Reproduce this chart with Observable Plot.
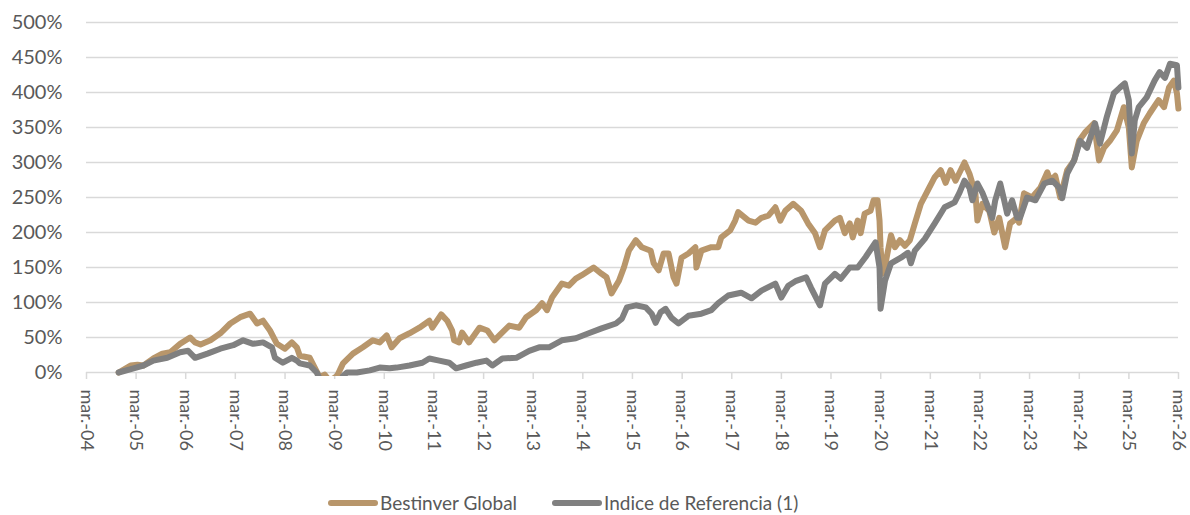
<!DOCTYPE html>
<html>
<head>
<meta charset="utf-8">
<script src="https://cdn.jsdelivr.net/npm/d3@7"></script>
<script src="https://cdn.jsdelivr.net/npm/@observablehq/plot@0.6"></script>
<style>
  html, body { margin: 0; padding: 0; background: #fff; }
  #wrap { position: relative; width: 1190px; height: 515px; font-family: Lato, "Open Sans", sans-serif; }
  #legend { position: absolute; left: 328px; top: 491px; display: flex; align-items: center; color: #595959; font-size: 19px; white-space: nowrap; }
  .item { display: flex; align-items: center; margin-right: 35px; }
  .sw { display: inline-block; width: 50px; height: 6px; border-radius: 3px; margin-right: 2px; }
</style>
</head>
<body>
<div id="wrap">
  <div id="chart"></div>
  <div id="legend"></div>
</div>
<script>
// ---- Data (decimal years, cumulative return in %) ----
const seriesNames = ["Bestinver Global", "Indice de Referencia (1)"];
const seriesColors = ["#B8966B", "#808080"];

const bestinverYears = [2004.81,2005.05,2005.19,2005.31,2005.51,2005.69,2005.85,2006.05,2006.25,2006.35,2006.46,2006.66,2006.86,2007.06,2007.26,2007.46,2007.60,2007.72,2007.86,2008.00,2008.16,2008.30,2008.40,2008.46,2008.66,2008.76,2008.86,2008.96,2009.06,2009.21,2009.33,2009.53,2009.73,2009.93,2010.07,2010.21,2010.31,2010.47,2010.67,2010.87,2011.07,2011.13,2011.31,2011.43,2011.53,2011.57,2011.67,2011.73,2011.87,2012.08,2012.24,2012.38,2012.48,2012.68,2012.88,2013.02,2013.22,2013.34,2013.44,2013.54,2013.74,2013.88,2014.02,2014.14,2014.38,2014.54,2014.64,2014.74,2014.89,2014.99,2015.09,2015.23,2015.35,2015.53,2015.59,2015.69,2015.79,2015.89,2015.99,2016.05,2016.15,2016.29,2016.43,2016.45,2016.55,2016.75,2016.89,2016.95,2017.13,2017.23,2017.29,2017.50,2017.64,2017.76,2017.90,2018.04,2018.14,2018.24,2018.40,2018.56,2018.70,2018.84,2018.94,2019.04,2019.24,2019.34,2019.44,2019.54,2019.60,2019.70,2019.76,2019.84,2019.96,2020.02,2020.10,2020.14,2020.16,2020.20,2020.26,2020.37,2020.45,2020.55,2020.65,2020.75,2020.85,2020.97,2021.11,2021.25,2021.37,2021.47,2021.57,2021.67,2021.85,2021.95,2022.07,2022.11,2022.21,2022.35,2022.45,2022.55,2022.67,2022.77,2022.91,2022.95,2023.05,2023.21,2023.38,2023.52,2023.58,2023.68,2023.78,2023.92,2024.06,2024.16,2024.28,2024.46,2024.56,2024.66,2024.78,2024.92,2025.06,2025.16,2025.22,2025.32,2025.46,2025.58,2025.76,2025.87,2025.97,2026.07,2026.13,2026.16];
const bestinverValues = [0,10,11,10,20,27,29,41,50,43,40,46,56,70,79,84,70,74,60,41,34,43,36,24,21,7,-7,-3,-12,-5,13,27,36,46,43,53,36,49,56,64,74,64,83,74,60,46,43,57,43,64,60,46,53,67,64,79,89,99,89,107,127,124,134,139,150,141,136,113,131,150,174,189,179,174,156,146,170,170,136,127,164,170,179,150,174,179,179,193,203,217,229,217,214,221,224,236,217,231,241,231,213,199,179,203,217,221,199,213,193,217,199,227,231,246,246,217,179,141,156,196,179,189,181,189,213,241,260,279,289,271,289,274,300,284,256,217,241,231,200,221,179,213,221,214,256,250,264,286,274,281,250,289,303,331,343,356,303,321,331,346,379,350,293,331,356,370,389,379,407,417,399,377];

const indiceYears = [2004.81,2005.11,2005.31,2005.51,2005.79,2006.05,2006.21,2006.35,2006.60,2006.86,2007.12,2007.32,2007.52,2007.72,2007.90,2007.96,2008.12,2008.30,2008.40,2008.46,2008.66,2008.80,2008.90,2009.17,2009.33,2009.41,2009.61,2009.87,2010.07,2010.27,2010.41,2010.67,2010.93,2011.07,2011.27,2011.47,2011.61,2011.81,2012.02,2012.22,2012.34,2012.54,2012.82,2013.08,2013.28,2013.48,2013.74,2014.02,2014.28,2014.54,2014.83,2014.95,2015.05,2015.23,2015.43,2015.55,2015.63,2015.73,2015.83,2015.95,2016.09,2016.29,2016.55,2016.75,2016.89,2017.09,2017.35,2017.56,2017.76,2018.04,2018.16,2018.30,2018.46,2018.66,2018.76,2018.94,2019.04,2019.24,2019.36,2019.54,2019.70,2019.86,2020.06,2020.14,2020.16,2020.25,2020.37,2020.57,2020.71,2020.77,2020.85,2021.05,2021.25,2021.45,2021.65,2021.75,2021.85,2021.95,2022.01,2022.11,2022.21,2022.31,2022.41,2022.47,2022.57,2022.65,2022.71,2022.81,2022.91,2022.97,2023.11,2023.28,2023.46,2023.62,2023.76,2023.82,2023.92,2024.06,2024.18,2024.32,2024.48,2024.58,2024.72,2024.86,2024.98,2025.08,2025.16,2025.22,2025.28,2025.36,2025.52,2025.68,2025.78,2025.89,2025.99,2026.13,2026.16];
const indiceValues = [0,6,10,17,21,29,31,21,27,34,39,46,41,43,36,21,14,21,17,13,10,0,-15,-25,-5,0,0,3,7,6,7,10,14,20,17,14,6,10,14,17,10,20,21,31,36,36,46,49,56,63,70,77,93,96,93,84,71,86,91,78,70,81,84,89,99,110,114,106,117,127,107,124,131,136,121,96,127,141,134,150,150,165,186,150,91,131,156,164,171,156,174,191,213,236,243,257,274,264,246,270,257,239,221,246,270,246,227,246,221,221,250,246,270,274,264,249,284,303,331,321,356,327,366,399,407,413,389,313,360,379,393,417,429,421,441,439,407];

const yTicks = [0,50,100,150,200,250,300,350,400,450,500];
const tickYears = [2004,2005,2006,2007,2008,2009,2010,2011,2012,2013,2014,2015,2016,2017,2018,2019,2020,2021,2022,2023,2024,2025,2026];
const tickLabels = ["mar.-04","mar.-05","mar.-06","mar.-07","mar.-08","mar.-09","mar.-10","mar.-11","mar.-12","mar.-13","mar.-14","mar.-15","mar.-16","mar.-17","mar.-18","mar.-19","mar.-20","mar.-21","mar.-22","mar.-23","mar.-24","mar.-25","mar.-26"];

// ---- Build ----
function toDate(t) {
  const y = Math.floor(t);
  const a = Date.UTC(y, 0, 1), b = Date.UTC(y + 1, 0, 1);
  return new Date(a + (t - y) * (b - a));
}
const rows = [];
bestinverYears.forEach((t, i) => rows.push({series: seriesNames[0], date: toDate(t), value: bestinverValues[i]}));
indiceYears.forEach((t, i) => rows.push({series: seriesNames[1], date: toDate(t), value: indiceValues[i]}));
const tickDates = tickYears.map(y => new Date(Date.UTC(y, 2, 1)));
const labelOf = new Map(tickDates.map((d, i) => [+d, tickLabels[i]]));

const chart = Plot.plot({
  width: 1190,
  height: 480,
  marginLeft: 86,
  marginRight: 12,
  marginTop: 22,
  marginBottom: 108,
  style: {fontFamily: "Lato, 'Open Sans', sans-serif", fontSize: "20px", color: "#595959", background: "#fff", overflow: "visible"},
  x: {type: "utc", domain: [tickDates[0], tickDates[tickDates.length - 1]]},
  y: {domain: [0, 500]},
  marks: [
    Plot.ruleY(yTicks, {stroke: "#d9d9d9", strokeWidth: 1.5}),
    Plot.axisY({ticks: yTicks, tickFormat: d => d + "%", tickSize: 0, tickPadding: 24, label: null, fill: "#595959", fontSize: 20}),
    Plot.axisX({ticks: tickDates, tickFormat: d => labelOf.get(+d), tickSize: 7, tickPadding: 10, tickRotate: 90, label: null, stroke: "#d9d9d9", strokeWidth: 1.5, fill: "#595959", fontSize: 18}),
    Plot.lineY(rows.filter(r => r.series === seriesNames[0]), {x: "date", y: "value", stroke: seriesColors[0], strokeWidth: 6, strokeLinejoin: "round", strokeLinecap: "round", clip: true}),
    Plot.lineY(rows.filter(r => r.series === seriesNames[1]), {x: "date", y: "value", stroke: seriesColors[1], strokeWidth: 6, strokeLinejoin: "round", strokeLinecap: "round", clip: true})
  ]
});
// let the stroke hang slightly below the 0% line as in the original
chart.querySelectorAll("clipPath rect").forEach(r => {
  const h = +r.getAttribute("height");
  r.setAttribute("height", h + 4);
  const w = +r.getAttribute("width");
  r.setAttribute("width", w + 4);
});
document.getElementById("chart").appendChild(chart);

const legend = document.getElementById("legend");
seriesNames.forEach((name, i) => {
  const item = document.createElement("div");
  item.className = "item";
  const sw = document.createElement("span");
  sw.className = "sw";
  sw.style.background = seriesColors[i];
  const txt = document.createElement("span");
  txt.textContent = name;
  item.appendChild(sw);
  item.appendChild(txt);
  legend.appendChild(item);
});
</script>
</body>
</html>
